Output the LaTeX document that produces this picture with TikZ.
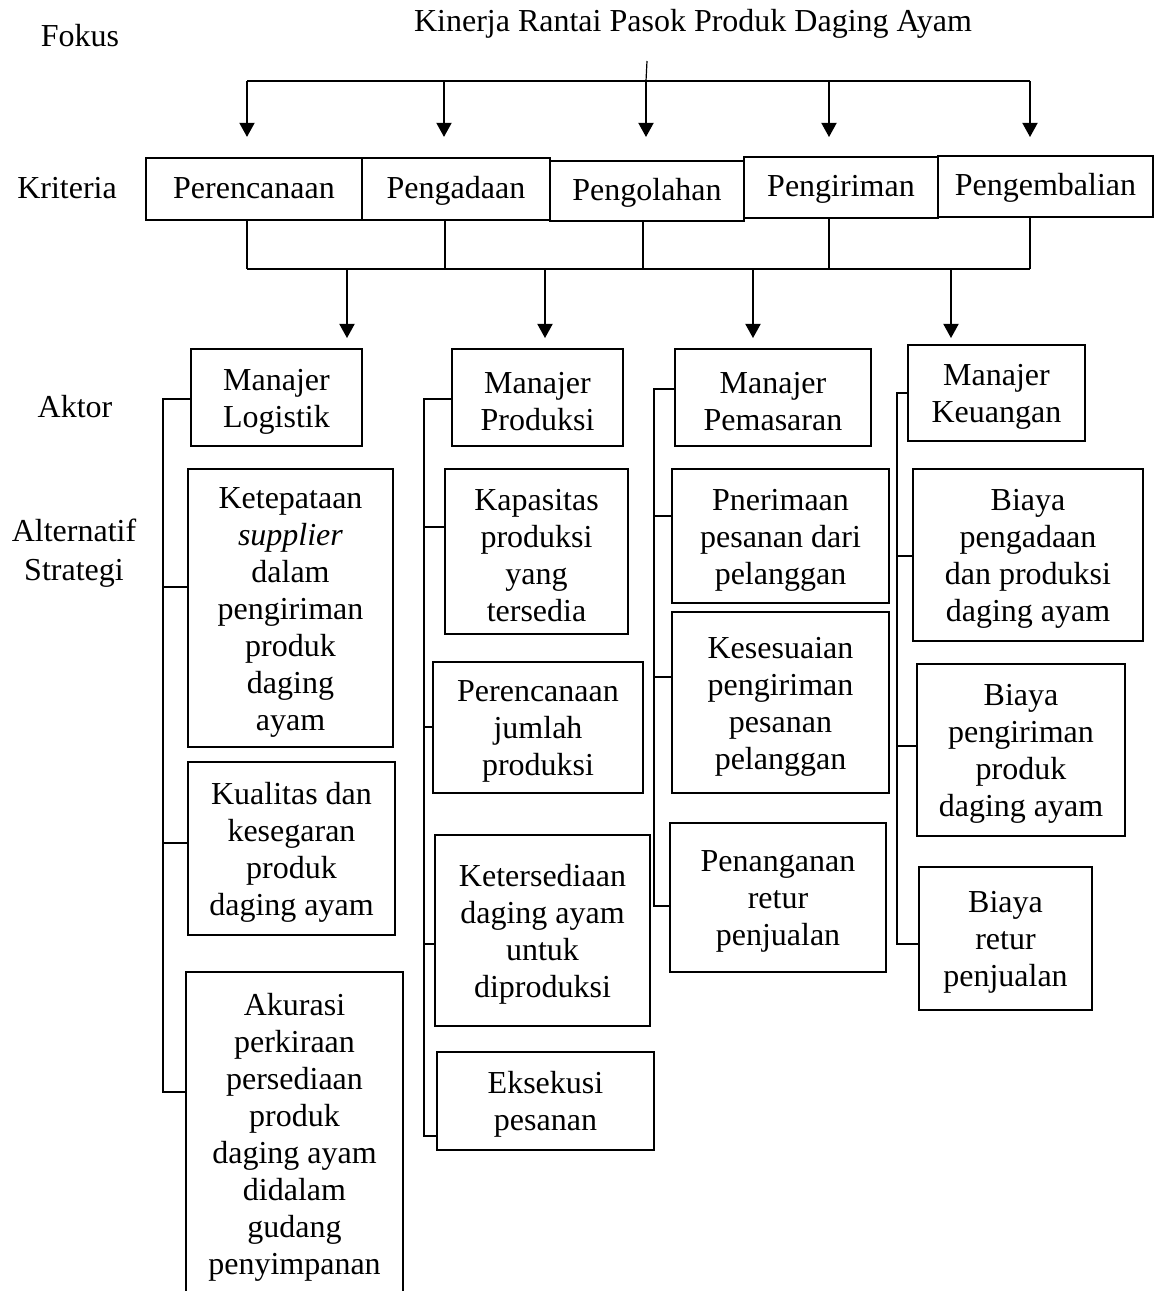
\documentclass[tikz,border=0pt]{standalone}
\usepackage{fontspec}
\setmainfont{Liberation Serif}
\usetikzlibrary{positioning, arrows.meta}
\newcommand{\atas}{\rule{0pt}{11pt}} % lifts the first line a little, as in the scan
\tikzset{
	x=0.375pt, y=-0.375pt, % one unit is one pixel of the scan
	>={Triangle[length=5.3pt, width=5.6pt]}, % solid arrow heads
	huruf/.style={font=\fontsize{12}{13.9}\selectfont, align=center}, % text of every node
	kotak/.style={huruf, draw, line width=0.95pt, inner sep=0pt, outer sep=0pt}, % boxed nodes
	ukuran/.style 2 args={minimum width=#1*0.375pt, minimum height=#2*0.375pt}, % box size in pixels
	kriteria/.style={kotak, text height=8.8pt, text depth=2pt}, % one line boxes in a row
	garis/.style={line width=0.45pt}, % thin tree lines
	panah/.style={->, line width=0.8pt}, % the down arrows
}
\begin{document}
\begin{tikzpicture}
	\path[use as bounding box, fill=white] (0,0) rectangle (1155,1291);

	% levels
	\node[huruf] (fokus) at (80,36) {Fokus};
	\node[huruf] (krit) at (67,188) {Kriteria};
	\node[huruf] (aktor) at (75,407) {Aktor};
	\node[huruf, font=\fontsize{12}{14.6}\selectfont] (alt) at (74,553) {Alternatif\\Strategi};
	\node[huruf] (judul) at (693,24) {Kinerja Rantai Pasok Produk Daging Ayam};

	% kriteria
	\node[kriteria, ukuran={216}{62}] (per) at (254,189) {Perencanaan};
	\node[kriteria, ukuran={188}{62}, right=0pt of per] (pga) {Pengadaan};
	\node[kriteria, ukuran={194}{60}, right=0pt of pga, yshift=-0.75pt] (pgo) {Pengolahan};
	\node[kriteria, ukuran={194}{61}, right=0pt of pgo, yshift=1.3pt] (pgi) {Pengiriman};
	\node[kriteria, ukuran={215}{61}, right=0pt of pgi, yshift=0.4pt] (pgb) {Pengembalian};

	% aktor
	\node[kotak, ukuran={171}{97}] (mlog) at (276.5,397.5) {\atas Manajer\\Logistik};
	\node[kotak, ukuran={171}{97}] (mpro) at (537.5,397.5) {\atas Manajer\\Produksi};
	\node[kotak, ukuran={196}{97}] (mpem) at (773,397.5) {\atas Manajer\\Pemasaran};
	\node[kotak, ukuran={177}{96}] (mkeu) at (996.5,393) {\atas Manajer\\Keuangan};

	% alternatif strategi
	\node[kotak, ukuran={205}{278}] (ket) at (290.5,608) {\atas Ketepataan\\\textit{supplier}\\dalam\\pengiriman\\produk\\daging\\ayam};
	\node[kotak, ukuran={207}{173}] (kua) at (291.5,848.5) {\atas Kualitas dan\\kesegaran\\produk\\daging ayam};
	\node[kotak, ukuran={217}{331}] (aku) at (294.5,1137.5) {Akurasi\\perkiraan\\persediaan\\produk\\daging ayam\\didalam\\gudang\\penyimpanan};

	\node[kotak, ukuran={183}{165}] (kap) at (536.5,551.5) {\atas Kapasitas\\produksi\\yang\\tersedia};
	\node[kotak, ukuran={210}{131}] (pjm) at (538,727.5) {\atas Perencanaan\\jumlah\\produksi};
	\node[kotak, ukuran={215}{191}] (ktr) at (542.5,930.5) {\atas Ketersediaan\\daging ayam\\untuk\\diproduksi};
	\node[kotak, ukuran={217}{98}] (eks) at (545.5,1101) {\atas Eksekusi\\pesanan};

	\node[kotak, ukuran={217}{134}] (pne) at (780.5,536) {\atas Pnerimaan\\pesanan dari\\pelanggan};
	\node[kotak, ukuran={217}{181}] (kes) at (780.5,702.5) {\atas Kesesuaian\\pengiriman\\pesanan\\pelanggan};
	\node[kotak, ukuran={216}{149}] (pen) at (778,897.5) {\atas Penanganan\\retur\\penjualan};

	\node[kotak, ukuran={230}{172}] (bpa) at (1028,555) {\atas Biaya\\pengadaan\\dan produksi\\daging ayam};
	\node[kotak, ukuran={208}{172}] (bpk) at (1021,750) {\atas Biaya\\pengiriman\\produk\\daging ayam};
	\node[kotak, ukuran={173}{143}] (bre) at (1005.5,938.5) {\atas Biaya\\retur\\penjualan};

	% fokus to kriteria
	\coordinate (stem) at (647,61);
	\coordinate (a1) at (247,81);
	\coordinate (a3) at (646,81);
	\coordinate (a5) at (1030,81);
	\draw[garis] (stem) -- (a3);
	\draw[line width=0.55pt] (a1) -- (a5);
	\foreach \x/\n/\s in {247/per/7.9pt, 444/pga/7.9pt, 646/pgo/9pt, 829/pgi/7.5pt, 1030/pgb/7.1pt}
		\draw[panah, shorten >=\s] (\x,81) -- (\x,81 |- \n.north);

	% kriteria to aktor
	\coordinate (b1) at (247,269);
	\coordinate (b5) at (1030,269);
	\foreach \x/\n in {247/per, 445/pga, 643/pgo, 829/pgi, 1030/pgb}
		\draw[garis] (\x,269 |- \n.south) -- (\x,269);
	\draw[garis] (b1) -- (b5);
	\foreach \x/\n/\s in {347/mlog/4.1pt, 545/mpro/4.1pt, 753/mpem/4.1pt, 951/mkeu/2.6pt}
		\draw[panah, shorten >=\s] (\x,269) -- (\x,269 |- \n.north);

	% aktor to alternatif strategi
	\coordinate (k1) at (163,1092);
	\draw[garis] (mlog.west |- 0,399) -| (k1) -- (aku.west |- k1);
	\foreach \y/\n in {587/ket, 843/kua}
		\draw[garis] (k1 |- 0,\y) -- (\n.west |- 0,\y);

	\coordinate (k2) at (424,1136);
	\draw[garis] (mpro.west |- 0,399) -| (k2) -- (eks.west |- k2);
	\foreach \y/\n in {527/kap, 727/pjm, 944/ktr}
		\draw[garis] (k2 |- 0,\y) -- (\n.west |- 0,\y);

	\coordinate (k3) at (654,906);
	\draw[garis] (mpem.west |- 0,389) -| (k3) -- (pen.west |- k3);
	\foreach \y/\n in {516/pne, 677/kes}
		\draw[garis] (k3 |- 0,\y) -- (\n.west |- 0,\y);

	\coordinate (k4) at (897,944);
	\draw[garis] (mkeu.west |- 0,393) -| (k4) -- (bre.west |- k4);
	\foreach \y/\n in {556/bpa, 746/bpk}
		\draw[garis] (k4 |- 0,\y) -- (\n.west |- 0,\y);
\end{tikzpicture}
\end{document}
